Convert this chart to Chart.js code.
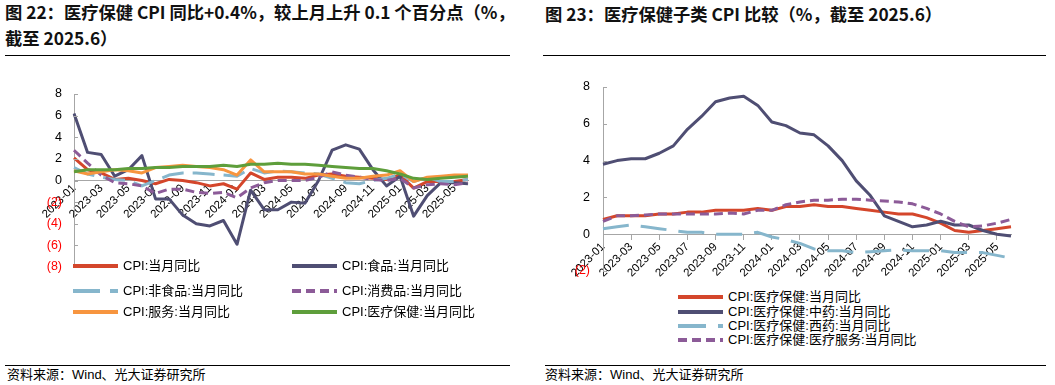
<!DOCTYPE html>
<html>
<head>
<meta charset="utf-8">
<script src="https://cdn.jsdelivr.net/npm/chart.js@4.4.1/dist/chart.umd.min.js"></script>
<style>
  html, body { margin:0; padding:0; background:#fff; }
  body { width:1055px; height:385px; position:relative; overflow:hidden;
         font-family:"Liberation Sans","Noto Sans CJK SC",sans-serif; color:#000; }
  .title { position:absolute; font-family:"Noto Sans CJK SC",sans-serif; font-weight:700;
           font-size:17.3px; line-height:26px; white-space:nowrap; color:#111; }
  .rule { position:absolute; height:1px; background:#000; }
  .src { position:absolute; font-size:13px; line-height:16px; white-space:nowrap;
         font-family:"Liberation Sans","Noto Sans CJK SC",sans-serif; }
  .lg { position:absolute; height:16px; white-space:nowrap; font-size:13px; line-height:16px; }
  .lg svg { position:absolute; left:0; top:5px; }
  .lg span { position:absolute; left:50px; top:0; }
  canvas { position:absolute; }
</style>
</head>
<body>
<div class="title" style="left:5px;top:-1px;">图 22：医疗保健 CPI 同比+0.4%，较上月上升 0.1 个百分点（%，<br>截至 2025.6）</div>
<div class="title" style="left:545px;top:1px;">图 23：医疗保健子类 CPI 比较（%，截至 2025.6）</div>
<div class="rule" style="left:5px;top:55px;width:505px;"></div>
<div class="rule" style="left:543px;top:55px;width:503px;"></div>
<div class="rule" style="left:5px;top:365px;width:505px;"></div>
<div class="rule" style="left:545px;top:365px;width:501px;"></div>
<div class="src" style="left:7px;top:367px;">资料来源：Wind、光大证券研究所</div>
<div class="src" style="left:545px;top:367px;">资料来源：Wind、光大证券研究所</div>

<div style="position:absolute;left:0;top:60px;width:520px;height:220px;"><canvas id="c1" width="520" height="220" style="left:0;top:0;"></canvas></div>
<div style="position:absolute;left:530px;top:60px;width:525px;height:225px;"><canvas id="c2" width="525" height="225" style="left:0;top:0;"></canvas></div>
<div id="legends"></div>

<script>
// ---------- DATA ----------
const months = ["2023-01","2023-02","2023-03","2023-04","2023-05","2023-06","2023-07","2023-08","2023-09","2023-10","2023-11","2023-12",
                "2024-01","2024-02","2024-03","2024-04","2024-05","2024-06","2024-07","2024-08","2024-09","2024-10","2024-11","2024-12",
                "2025-01","2025-02","2025-03","2025-04","2025-05","2025-06"];

// Chart 22
const cpiAll      = [2.1,1.0,0.7,0.1,0.2,0.0,-0.3,0.1,0.0,-0.2,-0.5,-0.3,-0.8,0.7,0.1,0.3,0.3,0.2,0.5,0.6,0.4,0.3,0.2,0.1,0.5,-0.7,-0.1,-0.1,-0.1,0.1];
const cpiFood     = [6.2,2.6,2.4,0.4,1.0,2.3,-1.7,-1.7,-3.2,-4.0,-4.2,-3.7,-5.9,-0.9,-2.7,-2.7,-2.0,-2.1,0.0,2.8,3.3,2.9,1.0,-0.5,0.4,-3.3,-1.4,-0.2,-0.2,-0.3];
const cpiNonFood  = [1.2,0.6,0.3,0.1,0.0,-0.5,0.0,0.5,0.7,0.7,0.6,0.5,0.4,1.1,0.7,0.9,0.8,0.7,0.6,0.2,-0.2,-0.3,0.0,0.2,0.6,-0.1,0.3,-0.1,-0.1,0.1];
const cpiGoods    = [2.8,1.6,0.5,-0.2,-0.3,-0.5,-1.2,-0.8,-0.8,-1.1,-1.2,-1.1,-1.6,-0.7,-0.2,0.0,0.0,0.0,0.3,0.8,0.5,0.3,0.1,0.0,0.2,-0.7,-0.4,-0.3,-0.4,-0.2];
const cpiServices = [0.9,0.6,0.8,1.0,0.9,0.7,1.2,1.3,1.4,1.3,1.2,1.0,0.5,1.9,0.8,0.8,0.8,0.6,0.6,0.4,0.2,0.2,0.4,0.5,0.9,-0.1,0.3,0.4,0.5,0.5];
const cpiMedical  = [0.8,1.0,1.0,1.0,1.1,1.1,1.2,1.2,1.3,1.3,1.3,1.4,1.3,1.5,1.5,1.6,1.5,1.5,1.4,1.3,1.2,1.1,1.1,0.9,0.6,0.2,0.1,0.2,0.3,0.4];

// Chart 23
const medTCM      = [3.8,4.0,4.1,4.1,4.4,4.8,5.7,6.4,7.2,7.4,7.5,7.0,6.1,5.9,5.5,5.4,4.8,4.0,2.9,2.1,1.0,0.7,0.4,0.5,0.7,0.5,0.5,0.2,0.0,-0.1];
const medWestern  = [0.3,0.4,0.5,0.4,0.3,0.2,0.1,0.1,0.0,0.0,0.0,0.1,-0.15,-0.3,-0.5,-0.8,-0.9,-0.9,-1.0,-0.95,-0.9,-0.85,-0.9,-0.9,-0.9,-1.0,-1.0,-1.0,-1.15,-1.3];
const medService  = [0.7,1.0,1.0,1.05,1.1,1.1,1.1,1.1,1.1,1.15,1.1,1.3,1.3,1.6,1.75,1.85,1.85,1.9,1.9,1.85,1.8,1.75,1.65,1.4,1.1,0.7,0.4,0.45,0.6,0.8];

const labels22 = ["CPI:当月同比","CPI:食品:当月同比","CPI:非食品:当月同比","CPI:消费品:当月同比","CPI:服务:当月同比","CPI:医疗保健:当月同比"];
const labels23 = ["CPI:医疗保健:当月同比","CPI:医疗保健:中药:当月同比","CPI:医疗保健:西药:当月同比","CPI:医疗保健:医疗服务:当月同比"];
const yTicks22 = [-8, 8, 2];
const yTicks23 = [-2, 8, 2];

// ---------- STYLES ----------
const RED = '#D4462B', DARK = '#4F4E73', LBLUE = '#86B6CC', PURPLE = '#8C5B98', ORANGE = '#F7953F', GREEN = '#5E9E3B';
const AXIS = '#A6A6A6';
const FONT = '"Liberation Sans","Noto Sans CJK SC",sans-serif';

const innerTicks = {
  id: 'innerTicks',
  afterDraw(chart) {
    const y = chart.scales.y, ctx = chart.ctx;
    ctx.save(); ctx.strokeStyle = AXIS; ctx.lineWidth = 1;
    y.ticks.forEach(t => {
      const py = Math.round(y.getPixelForValue(t.value)) + 0.5;
      ctx.beginPath(); ctx.moveTo(y.right, py); ctx.lineTo(y.right + 4, py); ctx.stroke();
    });
    ctx.restore();
  }
};

function ds(label, data, color, dash, n, i) {
  return { label, data, borderColor: color, backgroundColor: color, borderWidth: 3,
           borderDash: dash || [], pointRadius: 0, tension: 0, fill: false, order: n - i,
           borderCapStyle: 'butt', borderJoinStyle: 'round' };
}

function makeChart(id, datasets, yr, yWidth, yGap, padding, xTicks) {
  return new Chart(document.getElementById(id), {
    type: 'line',
    data: { labels: months, datasets },
    options: {
      responsive: false, animation: false, events: [],
      layout: { padding },
      plugins: { legend: { display: false }, tooltip: { enabled: false } },
      scales: {
        x: {
          type: 'category', position: { y: 0 }, offset: false,
          border: { display: true, color: AXIS, width: 1 },
          grid: { display: true, drawOnChartArea: false, drawTicks: xTicks > 0, tickLength: xTicks, color: AXIS },
          ticks: {
            autoSkip: false, maxRotation: 45, minRotation: 45, padding: 1,
            color: '#000', font: { family: FONT, size: 11.5 },
            callback: (v, i) => (i % 2 === 0 ? months[i] : null)
          }
        },
        y: {
          min: yr[0], max: yr[1],
          border: { display: true, color: AXIS, width: 1 },
          grid: { display: true, drawOnChartArea: false, drawTicks: true, tickLength: yGap, tickColor: 'rgba(0,0,0,0)' },
          ticks: {
            stepSize: yr[2], padding: 0, font: { family: FONT, size: 12.5 },
            color: c => (c.tick && c.tick.value < 0 ? '#FF0000' : '#000'),
            callback: v => (v < 0 ? '(' + (-v) + ')' : String(v))
          },
          afterFit: s => { s.width = yWidth; }
        }
      }
    },
    plugins: [innerTicks]
  });
}

const n1 = 6;
makeChart('c1', [
  ds(labels22[0], cpiAll, RED, null, n1, 0),
  ds(labels22[1], cpiFood, DARK, null, n1, 1),
  ds(labels22[2], cpiNonFood, LBLUE, [22, 9], n1, 2),
  ds(labels22[3], cpiGoods, PURPLE, [9, 5], n1, 3),
  ds(labels22[4], cpiServices, ORANGE, null, n1, 4),
  ds(labels22[5], cpiMedical, GREEN, null, n1, 5)
], yTicks22, 74, 12, { top: 34, bottom: 13, left: 0, right: 52 }, 0);

const n2 = 4;
makeChart('c2', [
  ds(labels23[0], cpiMedical, RED, null, n2, 0),
  ds(labels23[1], medTCM, DARK, null, n2, 1),
  ds(labels23[2], medWestern, LBLUE, [26, 12], n2, 2),
  ds(labels23[3], medService, PURPLE, [9, 5], n2, 3)
], yTicks23, 73, 13, { top: 27, bottom: 14, left: 0, right: 44 }, 5);

// ---------- HTML LEGENDS ----------
function legendItem(x, y, text, color, dash) {
  const d = document.createElement('div');
  d.className = 'lg';
  d.style.left = x + 'px'; d.style.top = (y - 8) + 'px';
  const da = dash ? ` stroke-dasharray="${dash}"` : '';
  d.innerHTML = `<svg width="46" height="6"><line x1="0" y1="3" x2="45" y2="3" stroke="${color}" stroke-width="4"${da}/></svg><span>${text}</span>`;
  document.getElementById('legends').appendChild(d);
}
legendItem(73, 266, labels22[0], RED);
legendItem(292, 266, labels22[1], DARK);
legendItem(73, 291, labels22[2], LBLUE, '27 10');
legendItem(292, 291, labels22[3], PURPLE, '9 5');
legendItem(73, 312, labels22[4], ORANGE);
legendItem(292, 312, labels22[5], GREEN);

legendItem(678, 297, labels23[0], RED);
legendItem(678, 312, labels23[1], DARK);
legendItem(678, 326, labels23[2], LBLUE, '28 12');
legendItem(678, 340, labels23[3], PURPLE, '9 5');
</script>
</body>
</html>
